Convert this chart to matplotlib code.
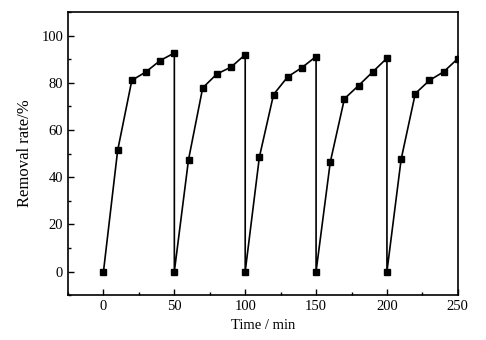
import matplotlib
matplotlib.use("Agg")
import matplotlib.pyplot as plt
from matplotlib.ticker import MultipleLocator

# Five adsorption cycles of 50 min each; sampling every 10 min
cycle_times = [0, 10, 20, 30, 40, 50]
cycle_rates = [
    [0, 51.3, 81.0, 84.6, 89.4, 92.6],
    [0, 47.4, 77.8, 83.7, 86.6, 91.9],
    [0, 48.5, 75.0, 82.5, 86.4, 91.1],
    [0, 46.3, 73.2, 78.8, 84.6, 90.4],
    [0, 47.5, 75.4, 81.0, 84.6, 90.2],
]
cycle_length = 50

time = []
rate = []
for i, rates in enumerate(cycle_rates):
    time += [i * cycle_length + t for t in cycle_times]
    rate += rates

plt.rcParams["font.family"] = ["Liberation Serif", "DejaVu Serif"]
plt.rcParams["font.size"] = 10

fig = plt.figure(figsize=(4.86, 3.4), dpi=100)
ax = fig.add_axes([0.140, 0.132, 0.802, 0.833])
ax.plot(time, rate, color="black", lw=1.2, marker="s", ms=4.5,
        markerfacecolor="black", markeredgecolor="black")

ax.set_xlim(-25, 250)
ax.set_ylim(-10, 110)
ax.xaxis.set_major_locator(MultipleLocator(50))
ax.xaxis.set_minor_locator(MultipleLocator(25))
ax.yaxis.set_major_locator(MultipleLocator(20))
ax.yaxis.set_minor_locator(MultipleLocator(10))
ax.tick_params(which="both", direction="in", width=1.0)
ax.tick_params(which="major", length=4, labelsize=10.5)
ax.tick_params(which="minor", length=2.5)
for s in ax.spines.values():
    s.set_linewidth(1.2)

ax.set_xlabel("Time / min", fontsize=10.5, labelpad=4)
ax.set_ylabel("Removal rate/%", fontsize=12, labelpad=6)

fig.savefig("out.png", dpi=100)
